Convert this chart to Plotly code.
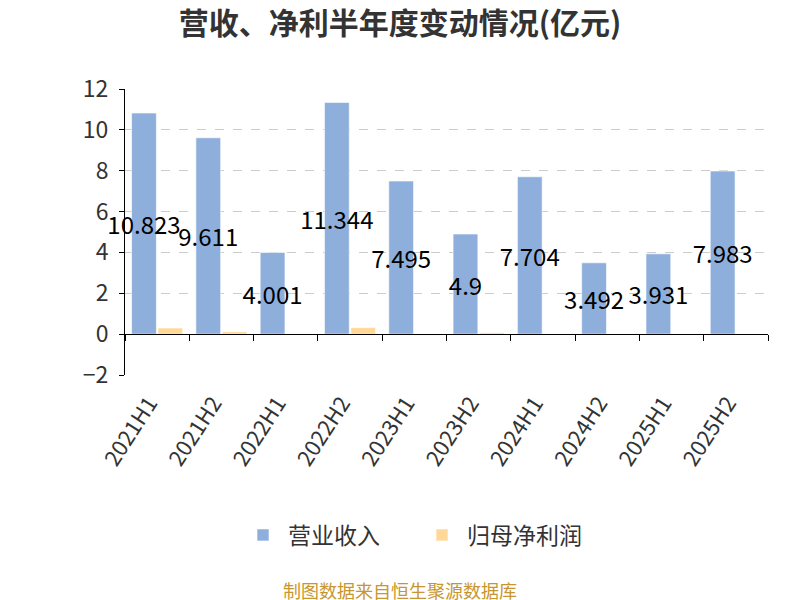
import plotly.graph_objects as go

# half-year periods and values (亿元)
periods = ["2021H1", "2021H2", "2022H1", "2022H2", "2023H1",
           "2023H2", "2024H1", "2024H2", "2025H1", "2025H2"]
revenue = [10.823, 9.611, 4.001, 11.344, 7.495, 4.9, 7.704, 3.492, 3.931, 7.983]
net_profit = [0.30, 0.12, 0.02, 0.32, -0.06, 0.07, 0.01, -0.04, -0.04, -0.03]
revenue_labels = [f"{v:g}" for v in revenue]

FONT = "Noto Sans CJK SC"
BLUE = "#8EAEDB"
ORANGE = "#FFD898"

# page body has an 8px margin, so the figure is laid out 8px up/left
L, T, R, B = 117, 81, 40, 233
PLOT_W, PLOT_H = 800 - L - R, 600 - T - B

fig = go.Figure()

fig.add_trace(go.Bar(
    x=periods, y=revenue, name="营业收入",
    marker=dict(color=BLUE, line=dict(color="rgba(255,255,255,0.6)", width=1)),
    text=revenue_labels, textposition="inside", insidetextanchor="middle",
    textangle=0, constraintext="none",
    insidetextfont=dict(color="#000000", size=24, family=FONT),
    cliponaxis=False,
))
fig.add_trace(go.Bar(
    x=periods, y=net_profit, name="归母净利润",
    marker=dict(color=ORANGE, line=dict(color="rgba(255,255,255,0.6)", width=1)),
))

# helper trace so the zero-line axis (ticks at boundaries) gets categories
fig.add_trace(go.Scatter(
    x=periods, y=revenue, xaxis="x2", mode="markers",
    marker=dict(opacity=0), showlegend=False, hoverinfo="skip",
))

fig.update_layout(
    width=800, height=600,
    paper_bgcolor="white", plot_bgcolor="white",
    font=dict(family=FONT, color="#333333"),
    title=dict(text="<b>营收、净利半年度变动情况(亿元)</b>", x=392 / 800, xref="container",
               xanchor="center", y=1 - 15 / 600, yanchor="middle",
               font=dict(size=30, color="#333333", family=FONT)),
    margin=dict(l=L, r=R, t=T, b=B),
    barmode="group", bargap=0.18, bargroupgap=0.06,
    legend=dict(orientation="h", xref="container", yref="container",
                x=409 / 800, xanchor="center", y=1 - 527 / 600, yanchor="middle",
                font=dict(size=23, color="#333333", family=FONT),
                itemwidth=40, entrywidth=124),
    xaxis=dict(type="category", showline=False, ticks="", showgrid=False,
               tickangle=-57, tickfont=dict(size=22, color="#333333"),
               ticklabelstandoff=10, ticklabelshift=-8,
               range=[-0.5, len(periods) - 0.5]),
    xaxis2=dict(type="category", overlaying="x", anchor="free", position=2 / 14,
                showline=True, linecolor="#000000", linewidth=1,
                ticks="outside", tickson="boundaries", ticklen=6,
                tickcolor="#000000", showticklabels=False, showgrid=False,
                range=[-0.5, len(periods) - 0.5], matches="x"),
    yaxis=dict(range=[-2, 12], dtick=2, showline=True, linecolor="#000000",
               linewidth=1, ticks="outside", ticklen=5, tickcolor="#000000",
               showgrid=True, gridcolor="#CCCCCC", griddash="dash", gridwidth=1,
               zeroline=False, ticklabelstandoff=6,
               tickfont=dict(size=23, color="#333333")),
    annotations=[dict(
        text="制图数据来自恒生聚源数据库", xref="paper", yref="paper",
        x=(392 - L) / PLOT_W, y=(PLOT_H - (582 - T)) / PLOT_H,
        xanchor="center", yanchor="middle",
        showarrow=False, font=dict(size=18, color="#C8962E", family=FONT),
    )],
)

fig.write_html("out.html")
